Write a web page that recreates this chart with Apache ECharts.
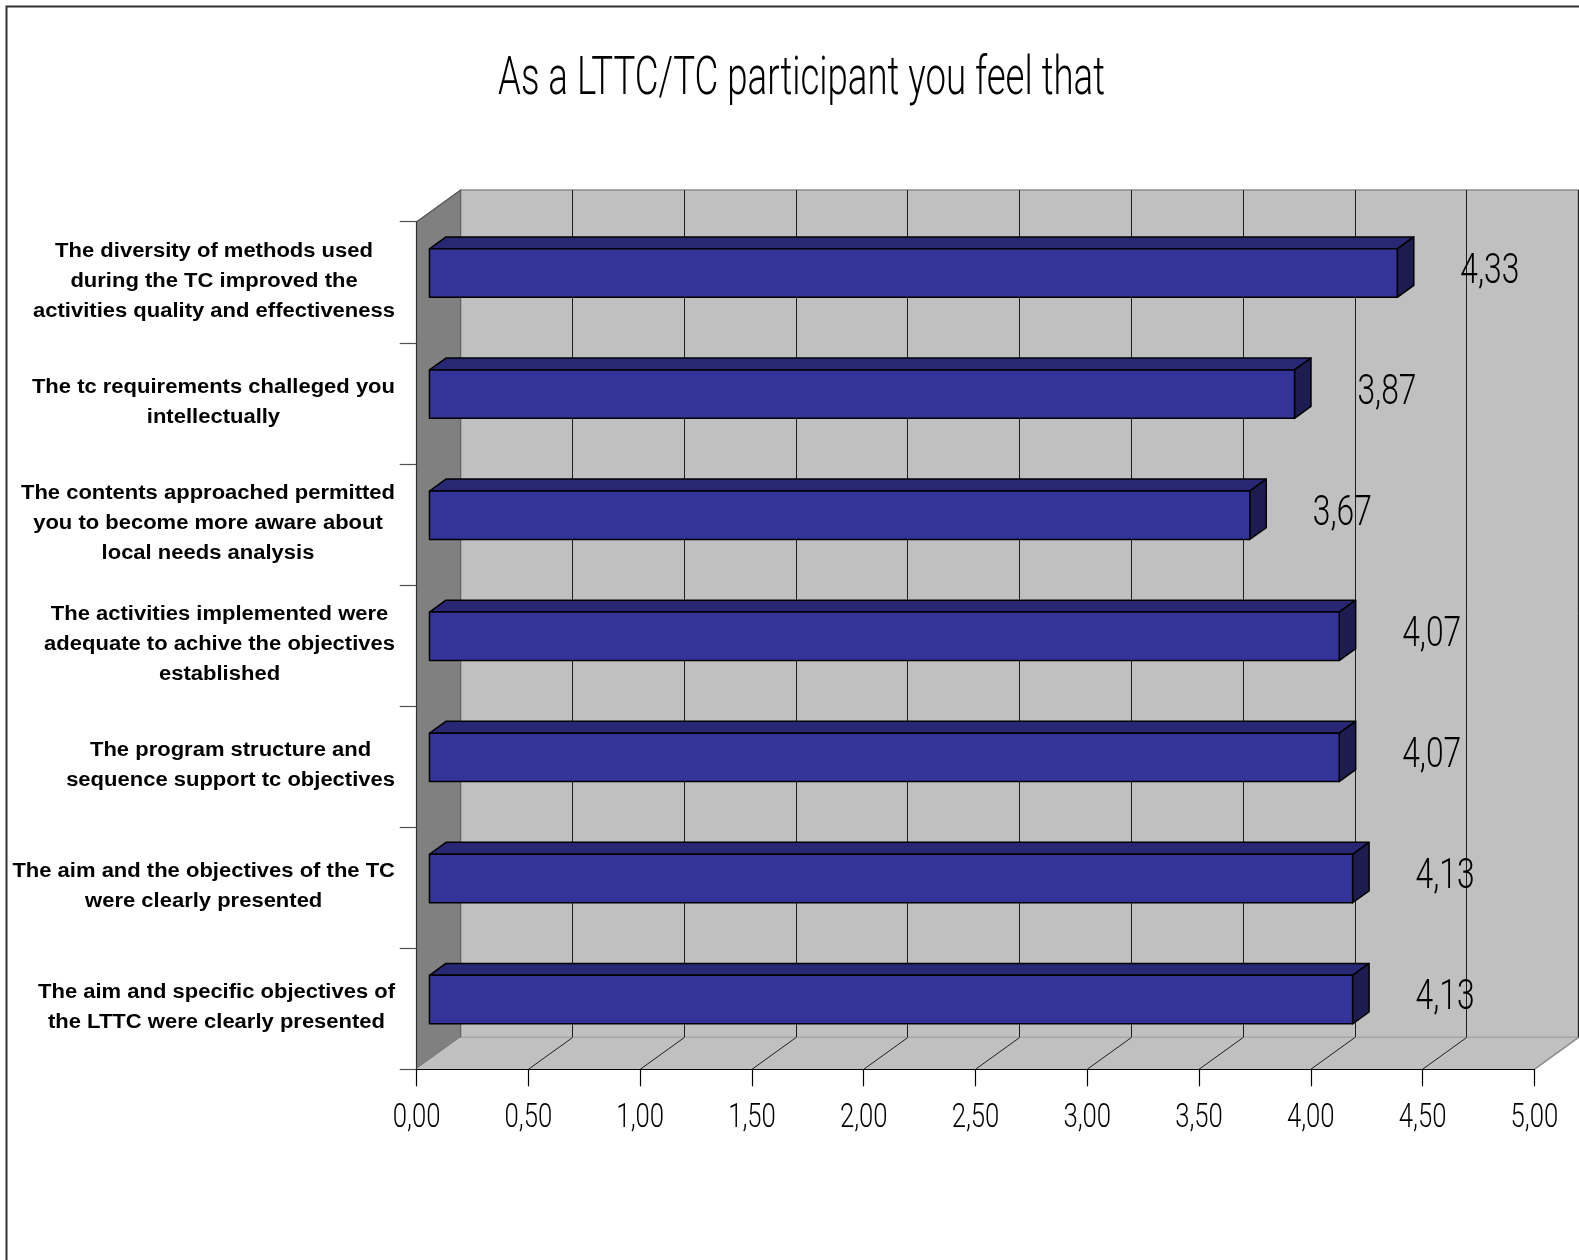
<!DOCTYPE html>
<html>
<head>
<meta charset="utf-8">
<script src="https://cdn.jsdelivr.net/npm/echarts@6/dist/echarts.min.js"></script>
<style>
  html, body { margin: 0; padding: 0; background: #fff; }
  #chart { width: 1579px; height: 1260px; }
</style>
</head>
<body>
<div id="chart"></div>
<script>
// ---- data ----
const categories = [
  'The diversity of methods used\nduring the TC improved the\nactivities quality and effectiveness',
  'The tc requirements challeged you\nintellectually',
  'The contents approached permitted\nyou to become more aware about\nlocal needs analysis',
  'The activities implemented were\nadequate to achive the objectives\nestablished',
  'The program structure and\nsequence support tc objectives',
  'The aim and the objectives of the TC\nwere clearly presented',
  'The aim and specific objectives of\nthe LTTC were clearly presented'
];
const scores = [4.33, 3.87, 3.67, 4.07, 4.07, 4.13, 4.13];
const tickValues = [0, 0.5, 1, 1.5, 2, 2.5, 3, 3.5, 4, 4.5, 5];
const tickLabels = ['0,00', '0,50', '1,00', '1,50', '2,00', '2,50', '3,00', '3,50', '4,00', '4,50', '5,00'];
const titleText = 'As a LTTC/TC participant you feel that';

// ---- layout & style ----
const DX = 44, DY = -31.7;               // depth vector of the 3D box
const FRONT = { left: 416.7, top: 221.7, width: 1117.6, height: 847.6 };
const BAR_FRONT = 0.29, BAR_BACK = 0.665; // bar depth span (fraction of DX/DY)
const BAR_THICK = 0.4;                    // bar thickness (fraction of band)
const THIN_FONT = 'Roboto, "Liberation Sans", Arial, sans-serif';
const THIN_WEIGHT = 300;
const CAT_FONT_SIZE = 20, CAT_SCALE = 1.1, CAT_RIGHT = 395;
const TITLE_SIZE = 53, TITLE_WIDTH = 607;
const VALUE_SIZE = 43, VALUE_WIDTH = 59;  // width of a "d,dd" value label
const TICK_SIZE = 33, TICK_WIDTH = 47.7;  // width of a "d,dd" tick label

const measureCtx = document.createElement('canvas').getContext('2d');
function textWidth(text, font) {
  measureCtx.font = font;
  return Math.max.apply(null, text.split('\n').map(l => measureCtx.measureText(l).width));
}
const thinFont = size => THIN_WEIGHT + ' ' + size + 'px ' + THIN_FONT;
const catFont = 'bold ' + CAT_FONT_SIZE + 'px "Liberation Sans", Arial, sans-serif';
// horizontal compression giving the condensed look of the numeric / title face
const titleScale = TITLE_WIDTH / textWidth(titleText, thinFont(TITLE_SIZE));
const valueScale = VALUE_WIDTH / textWidth('0,00', thinFont(VALUE_SIZE));
const tickScale = TICK_WIDTH / textWidth('0,00', thinFont(TICK_SIZE));

const fmt = v => v.toFixed(2).replace('.', ',');

function plotEdges(api) {
  const band = api.size([0, 1])[1];
  return {
    band: band,
    yTop: api.coord([0, 0])[1] - band / 2,
    yBot: api.coord([0, categories.length - 1])[1] + band / 2,
    x0: api.coord([tickValues[0], 0])[0],
    xMax: api.coord([tickValues[tickValues.length - 1], 0])[0]
  };
}

const chart = echarts.init(document.getElementById('chart'));

chart.setOption({
  backgroundColor: '#ffffff',
  animation: false,
  graphic: [
    {
      type: 'rect', silent: true, z: 100,
      shape: { x: 6.5, y: 6.5, width: 1700, height: 1400 },
      style: { fill: 'none', stroke: '#333333', lineWidth: 2 }
    },
    {
      type: 'text', silent: true, z: 100,
      x: 801.5, y: 81, scaleX: titleScale,
      style: {
        text: titleText, x: 0, y: 0, align: 'center', verticalAlign: 'middle',
        fontFamily: THIN_FONT, fontWeight: THIN_WEIGHT, fontSize: TITLE_SIZE, fill: '#000000'
      }
    }
  ],
  grid: [
    { left: FRONT.left, top: FRONT.top, width: FRONT.width, height: FRONT.height },
    {
      left: FRONT.left + DX, top: FRONT.top + DY, width: FRONT.width, height: FRONT.height,
      show: true, backgroundColor: '#c0c0c0', borderColor: '#8c8c8c', borderWidth: 1.5
    }
  ],
  xAxis: [
    {
      gridIndex: 0, type: 'value', min: 0, max: 5, interval: 0.5, z: 6,
      axisLine: { show: true, lineStyle: { color: '#000000', width: 1.2 } },
      axisTick: { show: true, length: 17, lineStyle: { color: '#000000', width: 1.2 } },
      axisLabel: { show: false },
      splitLine: { show: false }
    },
    {
      gridIndex: 1, type: 'value', min: 0, max: 5, interval: 0.5,
      axisLine: { show: false }, axisTick: { show: false }, axisLabel: { show: false },
      splitLine: { show: true, lineStyle: { color: '#1e1e1e', width: 1 } }
    }
  ],
  yAxis: [
    {
      gridIndex: 0, type: 'category', data: categories, inverse: true, z: 6,
      axisLine: { show: true, onZero: false, lineStyle: { color: '#303030', width: 1.2 } },
      axisTick: { show: true, length: 17, lineStyle: { color: '#505050', width: 1.2 } },
      axisLabel: { show: false },
      splitLine: { show: false }
    },
    {
      gridIndex: 1, type: 'category', data: categories, inverse: true, show: false
    }
  ],
  series: [
    {
      // side wall and floor of the 3D box
      type: 'custom', name: 'frame', xAxisIndex: 0, yAxisIndex: 0, z: 1, silent: true,
      data: [[0, 0]],
      renderItem: function (params, api) {
        const e = plotEdges(api);
        const children = [
          { type: 'polygon', shape: { points: [[e.x0, e.yTop], [e.x0 + DX, e.yTop + DY], [e.x0 + DX, e.yBot + DY], [e.x0, e.yBot]] },
            style: { fill: '#808080' } },
          { type: 'line', shape: { x1: e.x0, y1: e.yTop, x2: e.x0 + DX, y2: e.yTop + DY },
            style: { stroke: '#505050', lineWidth: 1.2 } },
          { type: 'polygon', shape: { points: [[e.x0, e.yBot], [e.x0 + DX, e.yBot + DY], [e.xMax + DX, e.yBot + DY], [e.xMax, e.yBot]] },
            style: { fill: '#c0c0c0' } },
          { type: 'line', shape: { x1: e.xMax, y1: e.yBot, x2: e.xMax + DX, y2: e.yBot + DY },
            style: { stroke: '#8c8c8c', lineWidth: 1.5 } }
        ];
        tickValues.slice(1, -1).forEach(function (t) {
          const x = api.coord([t, 0])[0];
          children.push({ type: 'line', shape: { x1: x, y1: e.yBot, x2: x + DX, y2: e.yBot + DY },
            style: { stroke: '#1e1e1e', lineWidth: 1 } });
        });
        return { type: 'group', children: children };
      }
    },
    {
      // 3D bars with value labels
      type: 'custom', name: 'score', xAxisIndex: 0, yAxisIndex: 0, z: 3,
      data: scores.map((v, i) => [v, i]),
      renderItem: function (params, api) {
        const idx = api.value(1);
        const v = api.value(0);
        const c0 = api.coord([0, idx]);
        const c1 = api.coord([v, idx]);
        const band = api.size([0, 1])[1];
        const h = band * BAR_THICK;
        const fx = DX * BAR_FRONT, fy = DY * BAR_FRONT;
        const bx = DX * BAR_BACK, by = DY * BAR_BACK;
        const yc = c0[1];
        const xl = c0[0], xr = c1[0];
        const stroke = { stroke: '#000000', lineWidth: 1.5, lineJoin: 'round' };
        return {
          type: 'group',
          children: [
            { type: 'polygon', shape: { points: [[xl + fx, yc + fy - h / 2], [xr + fx, yc + fy - h / 2], [xr + bx, yc + by - h / 2], [xl + bx, yc + by - h / 2]] },
              style: Object.assign({ fill: '#272773' }, stroke) },
            { type: 'polygon', shape: { points: [[xr + fx, yc + fy - h / 2], [xr + bx, yc + by - h / 2], [xr + bx, yc + by + h / 2], [xr + fx, yc + fy + h / 2]] },
              style: Object.assign({ fill: '#1c1c50' }, stroke) },
            { type: 'rect', shape: { x: xl + fx, y: yc + fy - h / 2, width: xr - xl, height: h },
              style: Object.assign({ fill: '#333399' }, stroke) },
            { type: 'text', x: xr + fx + 63, y: yc + fy - 1, scaleX: valueScale,
              style: { text: fmt(v), x: 0, y: 0, align: 'left', verticalAlign: 'middle',
                fontFamily: THIN_FONT, fontWeight: THIN_WEIGHT, fontSize: VALUE_SIZE, fill: '#000000' } }
          ]
        };
      }
    },
    {
      // category labels, centred line by line, right edge aligned
      type: 'custom', name: 'categoryLabels', xAxisIndex: 0, yAxisIndex: 0, z: 4, silent: true,
      data: categories.map((c, i) => [0, i]),
      renderItem: function (params, api) {
        const i = params.dataIndex;
        const y = api.coord([0, i])[1];
        const w = textWidth(categories[i], catFont) * CAT_SCALE;
        return {
          type: 'text', x: CAT_RIGHT - w / 2, y: y - 1, scaleX: CAT_SCALE,
          style: { text: categories[i], x: 0, y: 0, align: 'center', verticalAlign: 'middle',
            fontFamily: '"Liberation Sans", Arial, sans-serif', fontWeight: 'bold',
            fontSize: CAT_FONT_SIZE, lineHeight: 30, fill: '#000000' }
        };
      }
    },
    {
      // value-axis tick labels
      type: 'custom', name: 'tickLabels', xAxisIndex: 0, yAxisIndex: 0, z: 4, silent: true,
      data: tickValues.map(t => [t, 0]),
      renderItem: function (params, api) {
        const e = plotEdges(api);
        const x = api.coord([api.value(0), 0])[0];
        return {
          type: 'text', x: x, y: e.yBot + 49, scaleX: tickScale,
          style: { text: tickLabels[params.dataIndex], x: 0, y: 0, align: 'center', verticalAlign: 'middle',
            fontFamily: THIN_FONT, fontWeight: THIN_WEIGHT, fontSize: TICK_SIZE, fill: '#000000' }
        };
      }
    }
  ]
});
</script>
</body>
</html>
